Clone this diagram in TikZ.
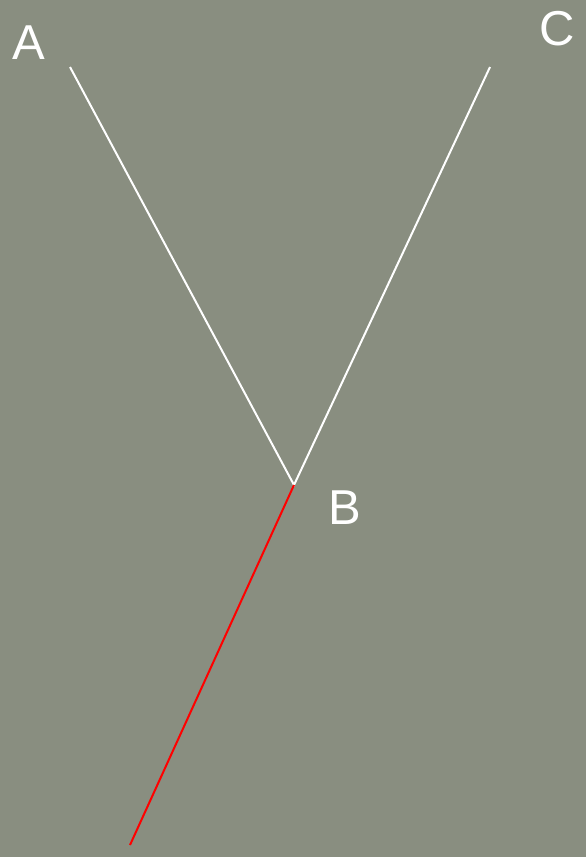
\documentclass[tikz,border=0pt]{standalone}
\usepackage{fontspec}
\setmainfont{Liberation Sans}
\definecolor{bg}{RGB}{137,142,128}
\begin{document}
\begin{tikzpicture}[x=1pt,y=-1pt,
  lbl/.style={text=white,font=\fontsize{49}{49}\selectfont,inner sep=0pt,anchor=center},
  wline/.style={white,line width=2pt},
  rline/.style={red,line width=2pt}]
\fill[bg] (0,0) rectangle (586,857);
\useasboundingbox (0,0) rectangle (586,857);
\coordinate (A) at (70,67);
\coordinate (C) at (490,67);
\coordinate (B) at (294,485);
\coordinate (D) at (130,845);
\draw[wline] (A) -- (B) -- (C);
\draw[rline] (B) -- (D);
\node[lbl] (la) at (29,43) {A};
\node[lbl] (lc) at (557,29) {C};
\node[lbl] (lb) at (345,508) {B};
\end{tikzpicture}
\end{document}
